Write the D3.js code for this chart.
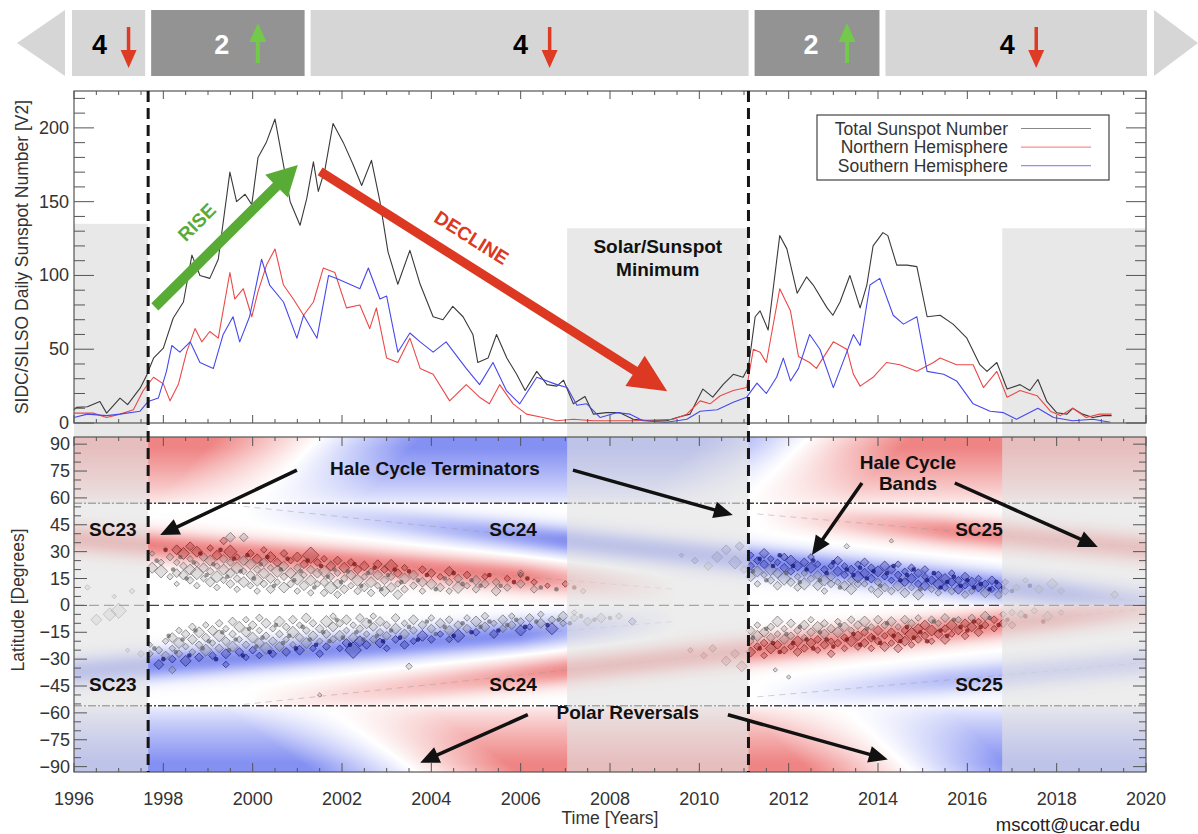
<!DOCTYPE html>
<html lang="en">
<head>
<meta charset="UTF-8">
<title>Hale Cycle Terminators and Sunspot Number</title>
<script src="https://d3js.org/d3.v7.min.js"></script>
<style>
  body { margin: 0; background: #fff; }
  svg text { font-family: "Liberation Sans", Arial, Helvetica, sans-serif; }
</style>
</head>
<body>
<script>
// ---------- data ----------
// sunspot number series, [year, value]
var totalSpots = [[1996.0,9],[1996.06,10.6],[1996.3,11],[1996.58,14.6],[1996.73,6.7],[1997.03,16.9],[1997.2,12.4],[1997.48,23.6],[1997.63,32.6],[1997.78,43.9],[1998.0,50.7],[1998.22,71],[1998.45,82],[1998.64,113.8],[1998.82,100],[1999.04,98],[1999.23,111],[1999.49,170],[1999.64,150],[1999.83,155],[1999.98,148],[2000.12,180],[2000.31,190.5],[2000.5,206],[2000.69,175],[2000.84,150],[2001.06,134],[2001.21,152],[2001.36,177],[2001.47,157],[2001.62,172],[2001.8,203],[2002.03,190],[2002.25,175],[2002.44,161],[2002.66,178],[2002.85,150],[2003.03,116],[2003.25,94],[2003.52,117],[2003.75,94],[2004.04,72],[2004.26,70],[2004.48,79],[2004.71,72],[2004.93,60],[2005.04,41],[2005.27,44],[2005.46,60],[2005.69,44],[2005.91,33],[2006.1,22],[2006.36,35],[2006.59,26],[2006.81,25],[2006.96,29],[2007.18,13],[2007.44,18],[2007.63,6],[2007.92,7],[2008.22,7],[2008.52,2.5],[2008.89,1.5],[2009.27,1.5],[2009.5,3.7],[2009.79,6],[2010.08,23],[2010.3,17.5],[2010.53,26],[2010.76,33],[2010.98,31],[2011.1,38],[2011.25,72],[2011.36,76],[2011.54,63],[2011.8,127],[2011.96,118],[2012.19,88],[2012.4,99],[2012.55,93.5],[2012.86,78],[2012.99,73],[2013.15,82],[2013.37,100],[2013.6,78],[2013.75,93.5],[2013.89,120],[2014.11,129],[2014.22,127],[2014.42,107],[2014.65,107],[2014.87,106],[2015.1,72],[2015.39,73],[2015.68,67],[2015.99,57.5],[2016.28,39.5],[2016.44,35],[2016.66,41],[2016.89,23],[2017.18,26],[2017.4,22],[2017.58,29.5],[2017.78,14.6],[2018.0,7],[2018.23,6],[2018.36,10],[2018.58,6],[2018.81,3.7],[2019.04,5],[2019.23,5]];

var northSpots = [[1996.0,6.7],[1996.43,6.7],[1996.73,3.7],[1997.03,6],[1997.33,9],[1997.55,22],[1997.78,31],[1998.0,26.5],[1998.15,15],[1998.34,26.5],[1998.52,48],[1998.71,64],[1998.86,55],[1999.04,62],[1999.23,57.5],[1999.49,102],[1999.6,84],[1999.79,91],[1999.98,72],[2000.12,89],[2000.31,107],[2000.5,118],[2000.69,93.5],[2000.91,84],[2001.14,73],[2001.36,82],[2001.58,105],[2001.84,102],[2002.1,78],[2002.4,80],[2002.62,64],[2002.77,78],[2003.0,44],[2003.25,41],[2003.52,57.5],[2003.75,37],[2004.04,33],[2004.41,15],[2004.78,26],[2005.08,17.5],[2005.3,13],[2005.53,26],[2005.83,13],[2006.13,6],[2006.5,3.7],[2006.81,1.5],[2007.18,2.5],[2007.63,1.5],[2008.52,1.5],[2009.42,2.5],[2009.72,6],[2010.02,15],[2010.24,13],[2010.47,18.5],[2010.76,22],[2011.06,24],[2011.21,50],[2011.36,48],[2011.5,41],[2011.8,91],[2012.04,76],[2012.22,45],[2012.47,41],[2012.62,37],[2013.0,55],[2013.3,50],[2013.45,33],[2013.6,25],[2013.89,31],[2014.19,41],[2014.49,39.5],[2014.87,35],[2015.24,41],[2015.39,44],[2015.76,39.5],[2016.13,39.5],[2016.36,24],[2016.66,35],[2016.89,17.5],[2017.18,22],[2017.56,18.5],[2017.86,8],[2018.08,5],[2018.36,10],[2018.66,3.7],[2018.96,6],[2019.23,6]];

var southSpots = [[1996.0,3.7],[1996.3,6],[1996.73,5],[1997.03,6],[1997.48,8],[1997.66,14.6],[1997.89,17],[1998.07,35],[1998.19,52.5],[1998.37,48],[1998.6,55],[1998.82,41],[1999.12,37],[1999.34,60],[1999.56,72],[1999.71,55],[1999.93,72],[2000.2,111],[2000.38,93.5],[2000.69,82],[2000.99,57.5],[2001.14,73],[2001.44,57.5],[2001.7,100],[2001.88,98],[2002.21,93.5],[2002.4,91],[2002.59,105],[2002.85,84],[2003.0,86],[2003.25,48],[2003.52,61],[2003.75,55],[2004.04,48],[2004.33,55],[2004.78,37],[2005.08,26],[2005.38,41],[2005.68,22],[2005.98,13],[2006.36,31],[2006.81,26],[2007.04,24],[2007.26,12],[2007.48,13],[2007.78,3.7],[2008.15,7],[2008.45,6],[2008.74,1.5],[2009.27,0.5],[2009.72,2.5],[2010.02,8],[2010.4,9],[2010.76,14],[2011.06,17.5],[2011.29,27],[2011.5,20],[2011.73,31],[2011.88,44],[2012.04,28.5],[2012.22,37],[2012.47,60],[2012.7,50],[2013.0,24],[2013.3,48],[2013.45,60],[2013.6,52.5],[2013.82,93.5],[2014.04,98],[2014.34,73],[2014.57,67],[2014.87,72],[2015.1,35],[2015.47,33],[2015.76,28.5],[2016.13,13],[2016.51,8],[2016.81,7],[2017.1,2.5],[2017.58,10],[2017.93,3.7],[2018.36,1.5],[2018.81,2.5],[2019.2,0.5]];

var seriesNames = ["Total Sunspot Number", "Northern Hemisphere", "Southern Hemisphere"];

// solar minimum periods (grey columns)
var minStart = [1996, 2007.04, 2016.78];
var minEnd = [1997.66, 2011.1, 2020];
var minTop = [135, 132, 132];

// Hale cycle terminators (dashed verticals)
var terminatorYears = [1997.66, 2011.1];

// banner phases
var phaseBounds = [1996, 1997.66, 2001.23, 2011.17, 2014.1, 2020];
var phaseCount = ["4", "2", "4", "2", "4"];
var phaseDir = ["down", "up", "down", "up", "down"];

// Hale cycle bands (northern hemisphere; south mirrored, polarity flipped)
var bandNames = ["SC23", "SC24", "SC25"];
var bandRefYear = [1998, 2003.3, 2014.5];
var bandRefLat = [33, 46, 44];
var bandDrift = [-2.1, -2.65, -2.2];
var bandOn = [1990, 1999.8, 2011.3];
var bandFull = [1992, 2007.0, 2015.5];
var bandFade = [2006.0, 2018.0, 2030];
var bandOff = [2009.5, 2023, 2031];
var bandSignN = [1, -1, 1];
var bandAmpN = [0.86, 0.86, 0.78];
var bandAmpS = [0.86, 0.8, 0.5];

// polar reversals: year at lat 58 and at the pole
var revNorthLow = [2000.1, 2011.0];
var revNorthPole = [2001.35, 2012.3];
var revSouthLow = [2001.7, 2013.3];
var revSouthPole = [2003.5, 2014.65];

var boundaryLats = [57, -56];

// sunspot butterfly: [year, latitude, size]
var spots23N = [[1997.75,29,5],[1997.75,21,10],[1997.95,19,12],[1997.95,24,6],[1998.15,27,7],[1998.15,16,6],[1998.3,31,9],[1998.3,24,6],[1998.3,18,8],[1998.3,12,5],[1998.45,29,11],[1998.45,22,7],[1998.45,17,9],[1998.6,33,8],[1998.6,26,6],[1998.6,20,10],[1998.6,14,7],[1998.75,30,10],[1998.75,23,5],[1998.75,18,12],[1998.75,11,6],[1998.9,27,8],[1998.9,21,9],[1998.9,15,6],[1999.05,32,6],[1999.05,25,10],[1999.05,19,7],[1999.05,13,9],[1999.2,28,9],[1999.2,22,6],[1999.2,16,11],[1999.2,10,6],[1999.35,36,7],[1999.35,26,8],[1999.35,20,10],[1999.35,14,6],[1999.5,30,12],[1999.5,24,7],[1999.5,18,9],[1999.5,12,8],[1999.65,27,6],[1999.65,21,11],[1999.65,15,7],[1999.65,9,6],[1999.8,25,9],[1999.8,19,6],[1999.8,13,10],[1999.95,29,7],[1999.95,23,10],[1999.95,17,8],[1999.95,11,6],[2000.1,26,9],[2000.1,20,7],[2000.1,14,11],[2000.1,8,6],[2000.25,31,6],[2000.25,24,8],[2000.25,18,10],[2000.25,12,7],[2000.4,27,10],[2000.4,21,6],[2000.4,15,9],[2000.4,9,8],[2000.55,24,8],[2000.55,19,11],[2000.55,13,6],[2000.7,29,7],[2000.7,22,9],[2000.7,16,7],[2000.7,10,10],[2000.85,25,6],[2000.85,18,10],[2000.85,12,7],[2001.0,27,9],[2001.0,21,7],[2001.0,15,12],[2001.0,8,6],[2001.15,23,8],[2001.15,17,6],[2001.15,11,9],[2001.3,28,15],[2001.3,20,8],[2001.3,14,10],[2001.3,7,6],[2001.45,24,7],[2001.45,18,9],[2001.45,12,6],[2001.6,26,6],[2001.6,19,11],[2001.6,13,8],[2001.6,7,7],[2001.75,22,9],[2001.75,16,7],[2001.75,10,12],[2001.9,25,8],[2001.9,18,6],[2001.9,12,9],[2001.9,6,7],[2002.05,21,10],[2002.05,15,7],[2002.05,9,8],[2002.2,24,7],[2002.2,17,9],[2002.2,11,6],[2002.35,20,8],[2002.35,14,11],[2002.35,8,7],[2002.5,22,9],[2002.5,16,6],[2002.5,10,8],[2002.65,19,6],[2002.65,13,10],[2002.65,7,7],[2002.8,23,8],[2002.8,17,9],[2002.8,11,6],[2002.95,20,7],[2002.95,14,8],[2002.95,8,10],[2003.1,22,12],[2003.1,16,7],[2003.1,10,9],[2003.25,18,8],[2003.25,12,6],[2003.25,6,9],[2003.4,21,6],[2003.4,15,10],[2003.4,9,7],[2003.6,17,9],[2003.6,11,7],[2003.8,20,7],[2003.8,13,9],[2003.8,8,6],[2004.0,18,8],[2004.0,12,10],[2004.2,16,6],[2004.2,10,8],[2004.4,19,9],[2004.4,13,7],[2004.4,8,6],[2004.6,15,8],[2004.6,10,11],[2004.8,17,7],[2004.8,11,6],[2005.0,14,9],[2005.0,9,7],[2005.2,16,6],[2005.2,12,8],[2005.45,13,7],[2005.45,8,9],[2005.7,15,6],[2005.7,10,7],[2006.0,12,8],[2006.0,17,5],[2006.3,13,6],[2006.3,9,7],[2006.6,11,5],[2007.0,12,6],[2007.4,8,5]];

var spots23S = [[1997.7,-27,6],[1997.7,-22,5],[1997.9,-33,9],[1997.9,-25,7],[1998.05,-20,6],[1998.05,-28,8],[1998.2,-18,9],[1998.2,-24,6],[1998.2,-30,7],[1998.35,-14,6],[1998.35,-21,10],[1998.35,-27,7],[1998.5,-16,8],[1998.5,-23,6],[1998.5,-31,10],[1998.65,-12,7],[1998.65,-19,9],[1998.65,-26,6],[1998.8,-15,10],[1998.8,-22,7],[1998.8,-29,8],[1998.95,-11,6],[1998.95,-18,8],[1998.95,-25,11],[1999.1,-14,9],[1999.1,-21,6],[1999.1,-28,7],[1999.25,-10,7],[1999.25,-17,11],[1999.25,-24,8],[1999.4,-13,6],[1999.4,-20,8],[1999.4,-27,9],[1999.4,-33,6],[1999.55,-9,8],[1999.55,-16,7],[1999.55,-23,10],[1999.7,-12,10],[1999.7,-19,6],[1999.7,-26,8],[1999.85,-8,6],[1999.85,-15,9],[1999.85,-22,7],[1999.85,-29,6],[2000.0,-11,8],[2000.0,-18,10],[2000.0,-25,7],[2000.15,-7,7],[2000.15,-14,6],[2000.15,-21,9],[2000.15,-28,6],[2000.3,-10,9],[2000.3,-17,7],[2000.3,-24,11],[2000.45,-13,6],[2000.45,-20,8],[2000.45,-27,7],[2000.6,-9,10],[2000.6,-16,7],[2000.6,-23,9],[2000.75,-12,7],[2000.75,-19,6],[2000.75,-26,8],[2000.9,-8,8],[2000.9,-15,11],[2000.9,-22,6],[2001.05,-11,6],[2001.05,-18,8],[2001.05,-25,9],[2001.2,-7,9],[2001.2,-14,7],[2001.2,-21,10],[2001.35,-10,7],[2001.35,-17,9],[2001.35,-24,6],[2001.5,-13,8],[2001.5,-20,6],[2001.5,-27,7],[2001.65,-9,11],[2001.65,-16,8],[2001.65,-23,7],[2001.8,-6,6],[2001.8,-12,9],[2001.8,-19,7],[2001.95,-10,7],[2001.95,-17,10],[2001.95,-24,6],[2002.1,-8,9],[2002.1,-14,6],[2002.1,-21,8],[2002.25,-11,6],[2002.25,-18,9],[2002.25,-25,15],[2002.4,-7,8],[2002.4,-13,7],[2002.4,-20,10],[2002.55,-10,10],[2002.55,-16,6],[2002.55,-22,8],[2002.7,-6,6],[2002.7,-12,8],[2002.7,-19,7],[2002.85,-9,9],[2002.85,-15,7],[2002.85,-21,9],[2003.0,-11,7],[2003.0,-17,8],[2003.0,-24,6],[2003.2,-7,8],[2003.2,-13,10],[2003.2,-19,7],[2003.4,-10,6],[2003.4,-16,9],[2003.4,-22,8],[2003.6,-8,9],[2003.6,-14,7],[2003.6,-20,6],[2003.8,-11,8],[2003.8,-17,10],[2004.0,-7,6],[2004.0,-13,8],[2004.0,-19,7],[2004.2,-10,9],[2004.2,-16,6],[2004.4,-8,7],[2004.4,-14,9],[2004.4,-19,6],[2004.6,-11,8],[2004.6,-17,12],[2004.8,-7,6],[2004.8,-13,8],[2005.0,-9,10],[2005.0,-15,7],[2005.2,-6,7],[2005.2,-12,9],[2005.4,-10,6],[2005.4,-16,8],[2005.6,-8,9],[2005.6,-13,7],[2005.8,-6,6],[2005.8,-11,8],[2006.0,-9,7],[2006.0,-14,10],[2006.2,-7,8],[2006.2,-12,6],[2006.45,-5,6],[2006.45,-10,9],[2006.7,-8,7],[2006.7,-13,11],[2006.95,-6,9],[2006.95,-10,6],[2007.2,-7,7],[2007.2,-4,5],[2007.5,-9,8],[2007.8,-7,9],[2008.2,-6,6],[2008.5,-9,7]];

var spots24N = [[2009.6,28,4],[2009.9,25,6],[2010.2,22,8],[2010.4,27,10],[2010.6,31,9],[2010.8,24,12],[2010.9,33,8],[2011.0,20,7],[2011.15,22,7],[2011.15,16,9],[2011.15,28,6],[2011.3,19,10],[2011.3,25,7],[2011.3,12,6],[2011.45,23,8],[2011.45,17,6],[2011.45,29,9],[2011.6,20,11],[2011.6,14,7],[2011.6,26,6],[2011.75,24,6],[2011.75,18,9],[2011.75,11,8],[2011.9,21,8],[2011.9,15,12],[2011.9,27,7],[2012.05,19,7],[2012.05,13,8],[2012.05,25,10],[2012.2,22,9],[2012.2,16,6],[2012.2,10,7],[2012.35,18,6],[2012.35,24,8],[2012.35,12,11],[2012.5,21,10],[2012.5,15,7],[2012.5,27,6],[2012.65,17,8],[2012.65,23,6],[2012.65,11,9],[2012.8,20,7],[2012.8,14,10],[2012.8,8,6],[2012.95,22,6],[2012.95,16,8],[2012.95,12,7],[2013.1,19,9],[2013.1,13,6],[2013.1,25,8],[2013.25,17,7],[2013.25,11,9],[2013.25,22,6],[2013.4,20,8],[2013.4,14,7],[2013.4,9,10],[2013.55,23,6],[2013.55,16,11],[2013.55,12,7],[2013.7,18,9],[2013.7,12,6],[2013.7,24,8],[2013.85,21,7],[2013.85,15,8],[2013.85,9,6],[2014.0,19,10],[2014.0,13,7],[2014.0,7,9],[2014.15,16,6],[2014.15,22,9],[2014.15,10,8],[2014.3,20,8],[2014.3,14,6],[2014.3,8,7],[2014.45,17,7],[2014.45,11,10],[2014.45,23,6],[2014.6,19,6],[2014.6,13,8],[2014.6,7,9],[2014.75,15,9],[2014.75,21,7],[2014.75,10,6],[2014.9,18,8],[2014.9,12,7],[2014.9,6,10],[2015.05,16,6],[2015.05,11,9],[2015.05,20,7],[2015.2,14,8],[2015.2,9,6],[2015.35,17,7],[2015.35,12,10],[2015.35,7,6],[2015.5,15,9],[2015.5,10,7],[2015.65,18,6],[2015.65,13,8],[2015.65,8,7],[2015.8,14,7],[2015.8,9,9],[2015.95,16,8],[2015.95,11,6],[2015.95,6,7],[2016.1,13,9],[2016.1,8,6],[2016.25,15,6],[2016.25,10,8],[2016.4,12,7],[2016.4,7,9],[2016.55,14,8],[2016.55,9,6],[2016.7,11,7],[2016.7,6,8],[2016.85,13,6],[2016.85,8,7]];

var spots24S = [[2009.8,-25,5],[2010.1,-28,6],[2010.3,-24,7],[2010.6,-31,9],[2010.8,-27,8],[2010.95,-34,10],[2011.15,-14,8],[2011.15,-20,6],[2011.15,-26,9],[2011.3,-11,6],[2011.3,-17,10],[2011.3,-23,7],[2011.45,-15,9],[2011.45,-21,7],[2011.45,-28,6],[2011.6,-12,7],[2011.6,-18,8],[2011.6,-24,10],[2011.75,-9,10],[2011.75,-16,6],[2011.75,-22,8],[2011.9,-13,6],[2011.9,-19,9],[2011.9,-25,7],[2012.05,-10,8],[2012.05,-17,7],[2012.05,-23,6],[2012.2,-14,7],[2012.2,-20,10],[2012.2,-26,8],[2012.35,-11,9],[2012.35,-18,6],[2012.35,-24,7],[2012.5,-8,6],[2012.5,-15,8],[2012.5,-21,9],[2012.65,-12,10],[2012.65,-19,7],[2012.65,-25,6],[2012.8,-10,7],[2012.8,-16,9],[2012.8,-22,8],[2012.95,-13,8],[2012.95,-20,6],[2012.95,-27,7],[2013.1,-9,6],[2013.1,-15,10],[2013.1,-21,7],[2013.25,-12,9],[2013.25,-18,7],[2013.25,-24,6],[2013.4,-8,7],[2013.4,-14,6],[2013.4,-20,10],[2013.55,-11,8],[2013.55,-17,9],[2013.55,-23,7],[2013.7,-9,10],[2013.7,-15,7],[2013.7,-21,8],[2013.85,-12,6],[2013.85,-18,8],[2013.85,-24,6],[2014.0,-8,8],[2014.0,-14,9],[2014.0,-20,7],[2014.15,-11,7],[2014.15,-17,6],[2014.15,-23,9],[2014.3,-9,9],[2014.3,-15,8],[2014.3,-21,6],[2014.45,-12,6],[2014.45,-18,10],[2014.45,-24,8],[2014.6,-8,8],[2014.6,-14,7],[2014.6,-20,9],[2014.75,-10,7],[2014.75,-16,12],[2014.75,-22,6],[2014.9,-7,6],[2014.9,-13,9],[2014.9,-19,7],[2015.05,-11,9],[2015.05,-17,7],[2015.2,-8,7],[2015.2,-14,10],[2015.2,-20,6],[2015.35,-10,6],[2015.35,-16,8],[2015.5,-7,8],[2015.5,-13,7],[2015.5,-19,9],[2015.65,-11,10],[2015.65,-16,6],[2015.8,-8,6],[2015.8,-14,8],[2015.95,-10,8],[2015.95,-17,7],[2016.1,-7,7],[2016.1,-12,9],[2016.25,-9,6],[2016.25,-15,8],[2016.4,-6,9],[2016.4,-11,7],[2016.6,-8,7],[2016.6,-13,6],[2016.8,-5,6],[2016.8,-10,8],[2017.0,-4,6],[2017.0,-11,7]];

var spotsOther = [[1996.3,10,5],[1996.5,-8,10],[1996.8,-5,12],[1996.9,5,4],[1997.0,-3,14],[1997.3,8,5],[1997.2,-25,4],[1997.5,-27,6],[1999.5,38,9],[1999.8,38,8],[1998.2,-36,7],[2001.5,-50,4],[2003.5,-34,6],[2006.0,18,6],[2012.0,-40,4],[2013.3,33,5],[2014.3,36,4],[2011.7,-36,4],[2017.1,10,6],[2017.3,14,5],[2017.6,9,8],[2017.9,12,10],[2018.1,8,6],[2019.3,6,7],[2017.2,-5,7],[2017.5,-3,6],[2017.8,-6,9],[2018.1,-4,5]];

// small spots: [year, latitude]
var dots23N = [[1997.85,25],[1998.05,31],[1998.22,20],[1998.38,27],[1998.52,15],[1998.68,24],[1998.83,29],[1998.97,17],[1999.12,23],[1999.28,31],[1999.43,16],[1999.58,26],[1999.73,19],[1999.88,28],[2000.03,15],[2000.18,23],[2000.33,27],[2000.48,11],[2000.63,20],[2000.78,26],[2000.93,14],[2001.08,19],[2001.23,25],[2001.38,10],[2001.53,22],[2001.68,16],[2001.83,20],[2001.98,13],[2002.13,19],[2002.28,23],[2002.43,11],[2002.58,18],[2002.73,21],[2002.88,9],[2003.03,17],[2003.18,20],[2003.33,13],[2003.5,19],[2003.7,14],[2003.9,17],[2004.1,9],[2004.3,15],[2004.5,18],[2004.7,12],[2004.9,14],[2005.1,11],[2005.3,17],[2005.55,11],[2005.85,13],[2006.15,15],[2006.45,10],[2006.8,9],[2007.2,10]];
var dots23S = [[1997.8,-24],[1998.0,-30],[1998.12,-17],[1998.28,-26],[1998.43,-19],[1998.58,-28],[1998.72,-14],[1998.88,-24],[1999.02,-20],[1999.18,-30],[1999.32,-15],[1999.47,-25],[1999.62,-19],[1999.78,-28],[1999.92,-13],[2000.08,-23],[2000.22,-18],[2000.38,-26],[2000.52,-11],[2000.68,-21],[2000.82,-17],[2000.97,-24],[2001.12,-12],[2001.28,-19],[2001.42,-22],[2001.58,-15],[2001.72,-20],[2001.88,-8],[2002.02,-18],[2002.18,-22],[2002.32,-15],[2002.48,-19],[2002.62,-9],[2002.78,-17],[2002.92,-20],[2003.1,-14],[2003.3,-18],[2003.5,-12],[2003.7,-19],[2003.9,-9],[2004.1,-16],[2004.3,-12],[2004.5,-17],[2004.7,-10],[2004.9,-15],[2005.1,-12],[2005.3,-9],[2005.5,-14],[2005.7,-11],[2005.9,-8],[2006.1,-12],[2006.35,-9],[2006.6,-11],[2006.85,-8],[2007.1,-10],[2007.35,-6],[2007.65,-8],[2008.0,-7]];
var dots24N = [[2011.2,19],[2011.35,26],[2011.5,14],[2011.65,22],[2011.8,28],[2011.95,18],[2012.1,22],[2012.25,13],[2012.4,20],[2012.55,25],[2012.7,14],[2012.85,18],[2013.0,24],[2013.15,10],[2013.3,20],[2013.45,17],[2013.6,21],[2013.75,15],[2013.9,19],[2014.05,11],[2014.2,18],[2014.35,22],[2014.5,14],[2014.65,17],[2014.8,20],[2014.95,9],[2015.1,14],[2015.25,18],[2015.4,10],[2015.55,13],[2015.7,16],[2015.85,11],[2016.0,14],[2016.15,10],[2016.3,12],[2016.5,9],[2016.65,13],[2016.8,10],[2017.0,8],[2017.4,11]];
var dots24S = [[2011.2,-18],[2011.35,-24],[2011.5,-13],[2011.65,-21],[2011.8,-26],[2011.95,-16],[2012.1,-21],[2012.25,-12],[2012.4,-19],[2012.55,-24],[2012.7,-15],[2012.85,-19],[2013.0,-23],[2013.15,-11],[2013.3,-19],[2013.45,-16],[2013.6,-22],[2013.75,-13],[2013.9,-18],[2014.05,-21],[2014.2,-10],[2014.35,-17],[2014.5,-20],[2014.65,-12],[2014.8,-18],[2014.95,-15],[2015.1,-20],[2015.25,-9],[2015.4,-14],[2015.55,-17],[2015.7,-8],[2015.85,-12],[2016.0,-14],[2016.15,-9],[2016.3,-12],[2016.5,-7],[2016.7,-11],[2016.9,-8],[2017.3,-6],[2017.7,-9]];

// ---------- layout ----------
var W = 1198, H = 834;
var svg = d3.select("body").append("svg").attr("width", W).attr("height", H);

var x = d3.scaleLinear().domain([1996, 2020]).range([74, 1146]);
var yTop = d3.scaleLinear().domain([0, 225]).range([423, 91]);
var yLat = d3.scaleLinear().domain([-93, 94]).range([772, 437]);

var seriesColors = ["#3a3a3a", "#ec4848", "#4848ec"];
var redEnd = [236, 112, 112], blueEnd = [112, 126, 240];

function arrowPath(x0, y0, x1, y1, shaft, headLen, headW) {
  var dx = x1 - x0, dy = y1 - y0, L = Math.hypot(dx, dy);
  var ux = dx / L, uy = dy / L, px = -uy, py = ux;
  var bx = x1 - ux * headLen, by = y1 - uy * headLen;
  var p = [
    [x0 + px * shaft / 2, y0 + py * shaft / 2],
    [bx + px * shaft / 2, by + py * shaft / 2],
    [bx + px * headW / 2, by + py * headW / 2],
    [x1, y1],
    [bx - px * headW / 2, by - py * headW / 2],
    [bx - px * shaft / 2, by - py * shaft / 2],
    [x0 - px * shaft / 2, y0 - py * shaft / 2]
  ];
  return "M" + p.map(function(q){ return q[0].toFixed(1) + "," + q[1].toFixed(1); }).join("L") + "Z";
}

// ---------- banner ----------
var banner = svg.append("g");
banner.append("path").attr("d", "M17,43L65,10L65,76Z").attr("fill", "#d6d6d6");
banner.append("path").attr("d", "M1154,10L1198,43L1154,76Z").attr("fill", "#d6d6d6");
for (var i = 0; i < phaseCount.length; i++) {
  var bx0 = x(phaseBounds[i]) + (i === 0 ? -2 : 3);
  var bx1 = x(phaseBounds[i + 1]) - (i === phaseCount.length - 1 ? -1 : 3);
  var up = phaseDir[i] === "up";
  var c = (bx0 + bx1) / 2;
  banner.append("rect").attr("x", bx0).attr("y", 10).attr("width", bx1 - bx0).attr("height", 66)
    .attr("fill", up ? "#939393" : "#d6d6d6");
  banner.append("text").attr("x", up ? c - 6 : c - 9).attr("y", 54)
    .attr("text-anchor", "middle").attr("font-size", 27).attr("font-weight", "bold")
    .attr("fill", up ? "#fff" : "#000").text(phaseCount[i]);
  var ax = up ? c + 30 : c + 20;
  if (up) {
    banner.append("path").attr("d", arrowPath(ax, 63, ax, 23, 4, 19, 17)).attr("fill", "#72c94a");
  } else {
    banner.append("path").attr("d", arrowPath(ax, 27, ax, 68, 3.5, 18, 16)).attr("fill", "#dd3b24");
  }
}

// ---------- top panel ----------
var topPanel = svg.append("g");
for (var m = 0; m < minStart.length; m++) {
  topPanel.append("rect").attr("x", x(minStart[m])).attr("y", yTop(minTop[m]))
    .attr("width", x(minEnd[m]) - x(minStart[m])).attr("height", 437 - yTop(minTop[m]))
    .attr("fill", "#e8e8e8");
}
var line = d3.line().x(function(d){ return x(d[0]); }).y(function(d){ return yTop(d[1]); });
[totalSpots, northSpots, southSpots].forEach(function(s, k) {
  topPanel.append("path").datum(s).attr("d", line).attr("fill", "none")
    .attr("stroke", seriesColors[k]).attr("stroke-width", 1.1).attr("stroke-linejoin", "round");
});

function drawTicks(g, y0, y1, yScale, majorStep, minorStep, majLen, minLen, xMaj, xMin) {
  var col = "#555";
  var dom = yScale.domain();
  d3.range(Math.ceil(dom[0] / minorStep) * minorStep, dom[1] + 0.001, minorStep).forEach(function(v) {
    var isMaj = Math.abs(v / majorStep - Math.round(v / majorStep)) < 1e-6;
    var L = isMaj ? majLen : minLen, yy = yScale(v);
    g.append("line").attr("x1", 74).attr("x2", 74 + L).attr("y1", yy).attr("y2", yy).attr("stroke", col);
    g.append("line").attr("x1", 1146).attr("x2", 1146 - L).attr("y1", yy).attr("y2", yy).attr("stroke", col);
  });
  d3.range(1996, 2020.001, 0.5).forEach(function(t) {
    var isMaj = Math.abs(t / 2 - Math.round(t / 2)) < 1e-6;
    var L = isMaj ? xMaj : xMin, xx = x(t);
    g.append("line").attr("x1", xx).attr("x2", xx).attr("y1", y1).attr("y2", y1 - L).attr("stroke", col);
    g.append("line").attr("x1", xx).attr("x2", xx).attr("y1", y0).attr("y2", y0 + L).attr("stroke", col);
  });
  g.append("rect").attr("x", 74).attr("y", y0).attr("width", 1072).attr("height", y1 - y0)
    .attr("fill", "none").attr("stroke", "#555").attr("stroke-width", 1.2);
}
drawTicks(topPanel, 91, 423, yTop, 50, 10, 20, 11, 8, 4);

[0, 50, 100, 150, 200].forEach(function(v) {
  topPanel.append("text").attr("x", 69).attr("y", yTop(v) + 6).attr("text-anchor", "end")
    .attr("font-size", 18).attr("fill", "#333").text(v);
});
topPanel.append("text").attr("transform", "translate(28,257) rotate(-90)").attr("text-anchor", "middle")
  .attr("font-size", 17.5).attr("fill", "#333").text("SIDC/SILSO Daily Sunspot Number [V2]");

// legend
var lg = topPanel.append("g");
lg.append("rect").attr("x", 817).attr("y", 115).attr("width", 292).attr("height", 65)
  .attr("fill", "#fff").attr("stroke", "#444").attr("stroke-width", 1.2);
seriesNames.forEach(function(n, k) {
  var yy = 128.5 + k * 18.6;
  lg.append("text").attr("x", 1008).attr("y", yy + 6).attr("text-anchor", "end")
    .attr("font-size", 17.5).attr("fill", "#333").text(n);
  lg.append("line").attr("x1", 1021).attr("x2", 1091).attr("y1", yy).attr("y2", yy)
    .attr("stroke", seriesColors[k]).attr("stroke-opacity", 0.6).attr("stroke-width", 1.2);
});

// rise / decline annotations
var rise = [[1997.81, 78.7], [2001.01, 174.8]];
var decline = [[2001.51, 170.5], [2009.28, 21.5]];
topPanel.append("path").attr("d", arrowPath(x(rise[0][0]), yTop(rise[0][1]), x(rise[1][0]), yTop(rise[1][1]), 10, 30, 32))
  .attr("fill", "#58ab34");
topPanel.append("path").attr("d", arrowPath(x(decline[0][0]), yTop(decline[0][1]), x(decline[1][0]), yTop(decline[1][1]), 9, 38, 36))
  .attr("fill", "#dc3822");
topPanel.append("text").attr("transform", "translate(" + x(1998.75) + "," + yTop(136) + ") rotate(-45)")
  .attr("text-anchor", "middle").attr("dominant-baseline", "central")
  .attr("font-size", 19).attr("font-weight", "bold").attr("fill", "#58ab34").text("RISE");
topPanel.append("text").attr("transform", "translate(" + x(2004.9) + "," + yTop(125.5) + ") rotate(32.3)")
  .attr("text-anchor", "middle").attr("dominant-baseline", "central")
  .attr("font-size", 19).attr("font-weight", "bold").attr("fill", "#dc3822").text("DECLINE");
topPanel.append("text").attr("x", x(2009.07)).attr("y", yTop(115)).attr("text-anchor", "middle")
  .attr("font-size", 19).attr("font-weight", "bold").attr("fill", "#111").text("Solar/Sunspot");
topPanel.append("text").attr("x", x(2009.07)).attr("y", yTop(99.5)).attr("text-anchor", "middle")
  .attr("font-size", 19).attr("font-weight", "bold").attr("fill", "#111").text("Minimum");

// ---------- bottom panel: Hale cycle band field ----------
function bandEnv(i, t) {
  if (t <= bandOn[i] || t >= bandOff[i]) return 0;
  if (t < bandFull[i]) return (t - bandOn[i]) / (bandFull[i] - bandOn[i]);
  if (t > bandFade[i]) return (bandOff[i] - t) / (bandOff[i] - bandFade[i]);
  return 1;
}
function bandCentre(i, t) { return bandRefLat[i] + bandDrift[i] * (t - bandRefYear[i]); }
function bandField(t, lat) {
  var hemi = lat >= 0 ? 1 : -1, a = Math.abs(lat), s = 0;
  for (var i = 0; i < bandRefYear.length; i++) {
    var e = bandEnv(i, t);
    if (e <= 0) continue;
    var d = (a - bandCentre(i, t)) / 5.6;
    var amp = hemi > 0 ? bandAmpN[i] : bandAmpS[i];
    s += amp * bandSignN[i] * hemi * e * Math.exp(-0.5 * d * d);
  }
  return Math.max(-1, Math.min(1, s));
}
function polarField(t, lat) {
  var north = lat >= 0, a = Math.abs(lat);
  var lo = north ? revNorthLow : revSouthLow, po = north ? revNorthPole : revSouthPole;
  var sign = north ? 1 : -1;
  var k = (a - 58) / 32;
  var r0 = lo[0] + (po[0] - lo[0]) * k, r1 = lo[1] + (po[1] - lo[1]) * k;
  var pol, dist;
  if (t < r0) { pol = sign; dist = r0 - t; }
  else if (t < r1) { pol = -sign; dist = Math.min(t - r0, r1 - t); }
  else { pol = sign; dist = t - r1; }
  var g = Math.pow(Math.max(0, Math.min(1, (a - 54) / 34)), 0.75);
  return pol * Math.min(1, dist / 2.3) * g * 0.86;
}

var fx0 = x.range()[0], fy0 = yLat.range()[1];
var fw = Math.round(x.range()[1] - fx0), fh = Math.round(yLat.range()[0] - fy0);
var canvas = document.createElement("canvas");
canvas.width = fw; canvas.height = fh;
var ctx = canvas.getContext("2d");
var img = ctx.createImageData(fw, fh);
for (var j = 0; j < fh; j++) {
  var lat = yLat.invert(fy0 + j + 0.5);
  for (var ii = 0; ii < fw; ii++) {
    var t = x.invert(fx0 + ii + 0.5);
    var f = Math.abs(lat) > 56.5 ? polarField(t, lat) : bandField(t, lat);
    var endc = f >= 0 ? redEnd : blueEnd, af = Math.abs(f);
    var o = (j * fw + ii) * 4;
    img.data[o] = 255 + (endc[0] - 255) * af;
    img.data[o + 1] = 255 + (endc[1] - 255) * af;
    img.data[o + 2] = 255 + (endc[2] - 255) * af;
    img.data[o + 3] = 255;
  }
}
ctx.putImageData(img, 0, 0);

var bot = svg.append("g");
bot.append("clipPath").attr("id", "botclip").append("rect")
  .attr("x", fx0).attr("y", fy0).attr("width", fw).attr("height", fh);
var inner = bot.append("g").attr("clip-path", "url(#botclip)");
inner.append("image").attr("x", fx0).attr("y", fy0).attr("width", fw).attr("height", fh)
  .attr("preserveAspectRatio", "none").attr("href", canvas.toDataURL());

// faint band centre lines
bandNames.forEach(function(n, i) {
  var t0 = Math.max(bandOn[i], 1996), t1 = Math.min(bandOff[i], 2020);
  [1, -1].forEach(function(h) {
    inner.append("line").attr("x1", x(t0)).attr("y1", yLat(h * bandCentre(i, t0)))
      .attr("x2", x(t1)).attr("y2", yLat(h * bandCentre(i, t1)))
      .attr("stroke", "#999").attr("stroke-opacity", 0.45).attr("stroke-dasharray", "6,5");
  });
});

// butterfly spots
function spotKind(d, band) {
  if (band < 0) return 0;
  var c = bandCentre(band, d[0]), a = Math.abs(d[1]);
  if (a > c - 4 && a < c + 12) return bandSignN[band] * (d[1] >= 0 ? 1 : -1);
  return 0;
}
var spotStroke = { "0": "rgba(85,85,85,0.6)", "1": "rgba(115,20,20,0.62)", "-1": "rgba(20,20,115,0.62)" };
var spotFill = { "0": "rgba(120,120,120,0.22)", "1": "rgba(140,30,30,0.26)", "-1": "rgba(30,30,140,0.26)" };
var dotFill = { "0": "rgba(80,80,80,0.6)", "1": "rgba(120,20,20,0.75)", "-1": "rgba(20,20,120,0.75)" };
[[spots23N, 0], [spots23S, 0], [spots24N, 1], [spots24S, 1], [spotsOther, -1]].forEach(function(set) {
  inner.append("g").selectAll("path").data(set[0]).enter().append("path")
    .attr("d", function(d){ var r = d[2] * 0.55; return "M0," + (-r) + "L" + r + ",0L0," + r + "L" + (-r) + ",0Z"; })
    .attr("transform", function(d){ return "translate(" + x(d[0]) + "," + yLat(d[1]) + ")"; })
    .attr("fill", function(d){ return spotFill[spotKind(d, set[1])]; })
    .attr("stroke", function(d){ return spotStroke[spotKind(d, set[1])]; })
    .attr("stroke-width", 1);
});
[[dots23N, 0], [dots23S, 0], [dots24N, 1], [dots24S, 1]].forEach(function(set) {
  inner.append("g").selectAll("circle").data(set[0]).enter().append("circle")
    .attr("cx", function(d){ return x(d[0]); }).attr("cy", function(d){ return yLat(d[1]); })
    .attr("r", 2.3).attr("fill", function(d){ return dotFill[spotKind(d, set[1])]; });
});

// boundary and equator lines
boundaryLats.forEach(function(l) {
  inner.append("line").attr("x1", fx0).attr("x2", fx0 + fw).attr("y1", yLat(l)).attr("y2", yLat(l))
    .attr("stroke", "#444").attr("stroke-width", 1.4).attr("stroke-dasharray", "8,2,2,2");
});
inner.append("line").attr("x1", fx0).attr("x2", fx0 + fw).attr("y1", yLat(0)).attr("y2", yLat(0))
  .attr("stroke", "#444").attr("stroke-width", 1.4).attr("stroke-dasharray", "10,5");

// grey minimum overlays
for (var m2 = 0; m2 < minStart.length; m2++) {
  inner.append("rect").attr("x", x(minStart[m2])).attr("y", fy0)
    .attr("width", x(minEnd[m2]) - x(minStart[m2])).attr("height", fh)
    .attr("fill", "#e2e2e2").attr("fill-opacity", 0.62);
}

drawTicks(bot, 437, 772, yLat, 15, 5, 13, 7, 9, 4);
d3.range(-90, 91, 15).forEach(function(v) {
  bot.append("text").attr("x", 70).attr("y", yLat(v) + 6).attr("text-anchor", "end")
    .attr("font-size", 18).attr("fill", "#333").text(v < 0 ? "\u2212" + (-v) : v);
});
bot.append("text").attr("transform", "translate(24,600) rotate(-90)").attr("text-anchor", "middle")
  .attr("font-size", 17.5).attr("fill", "#333").text("Latitude [Degrees]");
d3.range(1996, 2021, 2).forEach(function(t) {
  bot.append("text").attr("x", x(t)).attr("y", 805).attr("text-anchor", "middle")
    .attr("font-size", 18).attr("fill", "#333").text(t);
});
bot.append("text").attr("x", x(2008)).attr("y", 824).attr("text-anchor", "middle")
  .attr("font-size", 17.5).attr("fill", "#333").text("Time [Years]");
svg.append("text").attr("x", 1140).attr("y", 831).attr("text-anchor", "end")
  .attr("font-size", 18.5).attr("fill", "#222").text("mscott@ucar.edu");

// terminator lines across both panels
terminatorYears.forEach(function(t) {
  svg.append("line").attr("x1", x(t)).attr("x2", x(t)).attr("y1", 91).attr("y2", 772)
    .attr("stroke", "#151515").attr("stroke-width", 3).attr("stroke-dasharray", "11,6");
});

// annotations in the butterfly panel
var notes = [
  ["Hale Cycle Terminators", 2004.08, 76.6],
  ["SC23", 1996.87, 42.6], ["SC23", 1996.87, -44.3],
  ["SC24", 2005.83, 42.6], ["SC24", 2005.83, -44.3],
  ["SC25", 2016.26, 42.6], ["SC25", 2016.26, -44.3],
  ["Hale Cycle", 2014.67, 79.9], ["Bands", 2014.67, 68.2],
  ["Polar Reversals", 2008.4, -60]
];
notes.forEach(function(n) {
  svg.append("text").attr("x", x(n[1])).attr("y", yLat(n[2])).attr("text-anchor", "middle")
    .attr("dominant-baseline", "central").attr("font-size", 19).attr("font-weight", "bold")
    .attr("fill", "#111").text(n[0]);
});
var noteArrows = [
  [2000.99, 75.5, 1997.93, 39.3], [2007.17, 75.5, 2010.75, 50.4],
  [2013.64, 68.3, 2012.52, 28.2], [2015.72, 68.3, 2018.92, 32.6],
  [2006.16, -61, 2003.75, -87.8], [2010.64, -61, 2014.22, -86]
];
noteArrows.forEach(function(a) {
  svg.append("path").attr("d", arrowPath(x(a[0]), yLat(a[1]), x(a[2]), yLat(a[3]), 3.5, 19, 17))
    .attr("fill", "#111");
});
</script>
</body>
</html>
